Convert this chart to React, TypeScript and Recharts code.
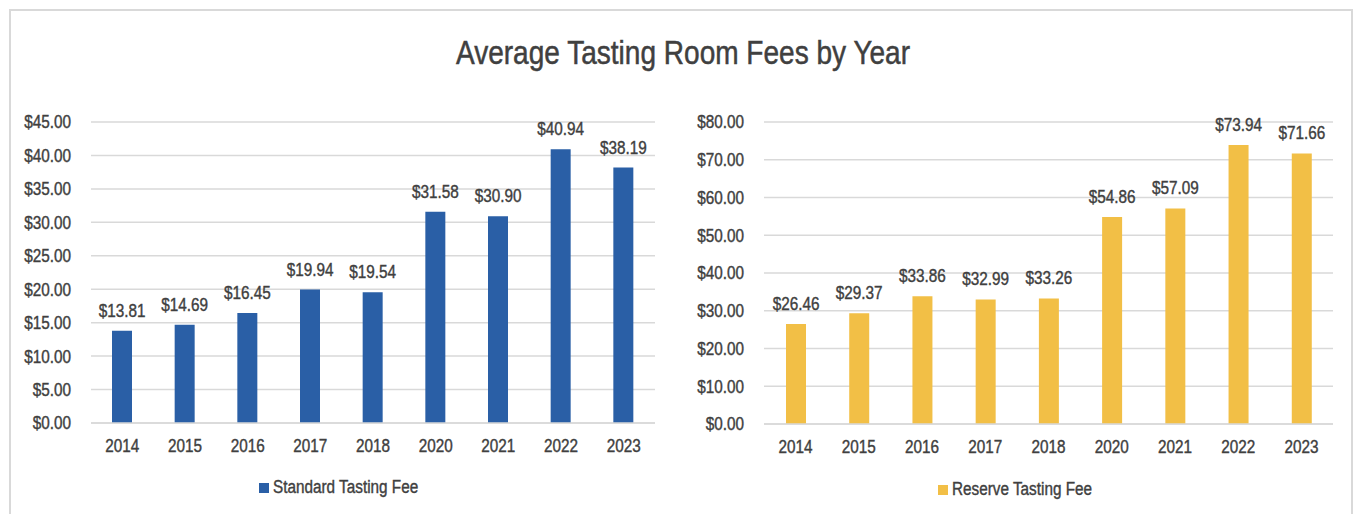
import { BarChart, Bar, XAxis, YAxis, CartesianGrid, Legend, LabelList } from 'recharts'

const years = ['2014', '2015', '2016', '2017', '2018', '2020', '2021', '2022', '2023']
const standardFees = [13.81, 14.69, 16.45, 19.94, 19.54, 31.58, 30.9, 40.94, 38.19]
const reserveFees = [26.46, 29.37, 33.86, 32.99, 33.26, 54.86, 57.09, 73.94, 71.66]
const standardTicks = [0, 5, 10, 15, 20, 25, 30, 35, 40, 45]
const reserveTicks = [0, 10, 20, 30, 40, 50, 60, 70, 80]

const standardData = years.map((year, i) => ({ year, fee: standardFees[i] }))
const reserveData = years.map((year, i) => ({ year, fee: reserveFees[i] }))

// no narrow font installed, so squeeze Liberation Sans horizontally
const FONT = "'Liberation Sans', Arial, sans-serif"
const SQUEEZE = 0.85
const TEXT = '#404040'
const GRID = '#d9d9d9'
const HEAVY = 0.4

const money = (v: any) => `$${Number(v).toFixed(2)}`

function NarrowTick(props: any) {
  const { x, y, payload, textAnchor, isY } = props
  const label = isY ? money(payload.value) : payload.value
  return (
    <g transform={`translate(${x},${y})`}>
      <text
        transform={`scale(${SQUEEZE},1)`}
        textAnchor={textAnchor}
        dy={isY ? '0.355em' : '0.71em'}
        fill={TEXT}
        stroke={TEXT}
        strokeWidth={HEAVY}
        fontSize={18}
        fontFamily={FONT}
      >
        {label}
      </text>
    </g>
  )
}

function ValueLabel(props: any) {
  const { x, y, width, value } = props
  return (
    <g transform={`translate(${Number(x) + Number(width) / 2},${Number(y) - 14})`}>
      <text
        transform={`scale(${SQUEEZE},1)`}
        textAnchor="middle"
        fill={TEXT}
        stroke={TEXT}
        strokeWidth={HEAVY}
        fontSize={18}
        fontFamily={FONT}
      >
        {money(value)}
      </text>
    </g>
  )
}

function LegendItem({ color, name }: { color: string; name: string }) {
  return (
    <div style={{ display: 'flex', alignItems: 'center', fontFamily: FONT, fontSize: 18, color: TEXT, whiteSpace: 'nowrap' }}>
      <div style={{ width: 10, height: 10, background: color, marginRight: 4 }} />
      <span
        style={{
          display: 'inline-block',
          transform: `scaleX(${SQUEEZE})`,
          transformOrigin: 'left center',
          WebkitTextStroke: `${HEAVY}px ${TEXT}`,
        }}
      >
        {name}
      </span>
    </div>
  )
}

interface FeeChartProps {
  data: { year: string; fee: number }[]
  ticks: number[]
  color: string
  name: string
  left: number
  width: number
  yWidth: number
  right: number
  bottom: number
  legendLeft: number
  legendTop: number
}

function FeeChart({ data, ticks, color, name, left, width, yWidth, right, bottom, legendLeft, legendTop }: FeeChartProps) {
  return (
    <div style={{ position: 'absolute', left, top: 0 }}>
      <BarChart width={width} height={514} data={data} margin={{ top: 122, right, bottom, left: 0 }}>
        <CartesianGrid vertical={false} stroke={GRID} strokeWidth={1.5} />
        <XAxis
          dataKey="year"
          height={30}
          tickLine={false}
          tickSize={6}
          tickMargin={10}
          axisLine={{ stroke: GRID, strokeWidth: 1.5 }}
          tick={<NarrowTick />}
        />
        <YAxis
          width={yWidth}
          domain={[0, ticks[ticks.length - 1]]}
          ticks={ticks}
          interval={0}
          tickLine={false}
          axisLine={false}
          tickSize={6}
          tickMargin={14}
          tick={<NarrowTick isY />}
        />
        <Legend
          verticalAlign="middle"
          align="center"
          layout="horizontal"
          wrapperStyle={{ top: legendTop, left: legendLeft, width: 'auto' }}
          content={() => <LegendItem color={color} name={name} />}
        />
        <Bar dataKey="fee" name={name} fill={color} barSize={20} isAnimationActive={false}>
          <LabelList dataKey="fee" content={<ValueLabel />} />
        </Bar>
      </BarChart>
    </div>
  )
}

export default function App() {
  return (
    <div style={{ position: 'absolute', left: 0, top: 0, width: 1353, height: 514, background: '#fff', overflow: 'hidden' }}>
      <div
        style={{
          position: 'absolute',
          left: 9,
          top: 9,
          width: 1340,
          height: 520,
          border: '2px solid #d9d9d9',
          borderBottom: 'none',
        }}
      />
      <svg style={{ position: 'absolute', left: 0, top: 0 }} width={1353} height={90}>
        <g transform="translate(683,64)">
          <text
            transform={`scale(${SQUEEZE},1)`}
            textAnchor="middle"
            fill={TEXT}
            stroke={TEXT}
            strokeWidth={0.5}
            fontSize={33}
            fontFamily={FONT}
          >
            Average Tasting Room Fees by Year
          </text>
        </g>
      </svg>
      <FeeChart
        data={standardData}
        ticks={standardTicks}
        color="#2a5fa6"
        name="Standard Tasting Fee"
        left={0}
        width={680}
        yWidth={91}
        right={25}
        bottom={61}
        legendLeft={259}
        legendTop={477}
      />
      <FeeChart
        data={reserveData}
        ticks={reserveTicks}
        color="#f2bf46"
        name="Reserve Tasting Fee"
        left={680}
        width={673}
        yWidth={84}
        right={20}
        bottom={60}
        legendLeft={258}
        legendTop={479}
      />
    </div>
  )
}
